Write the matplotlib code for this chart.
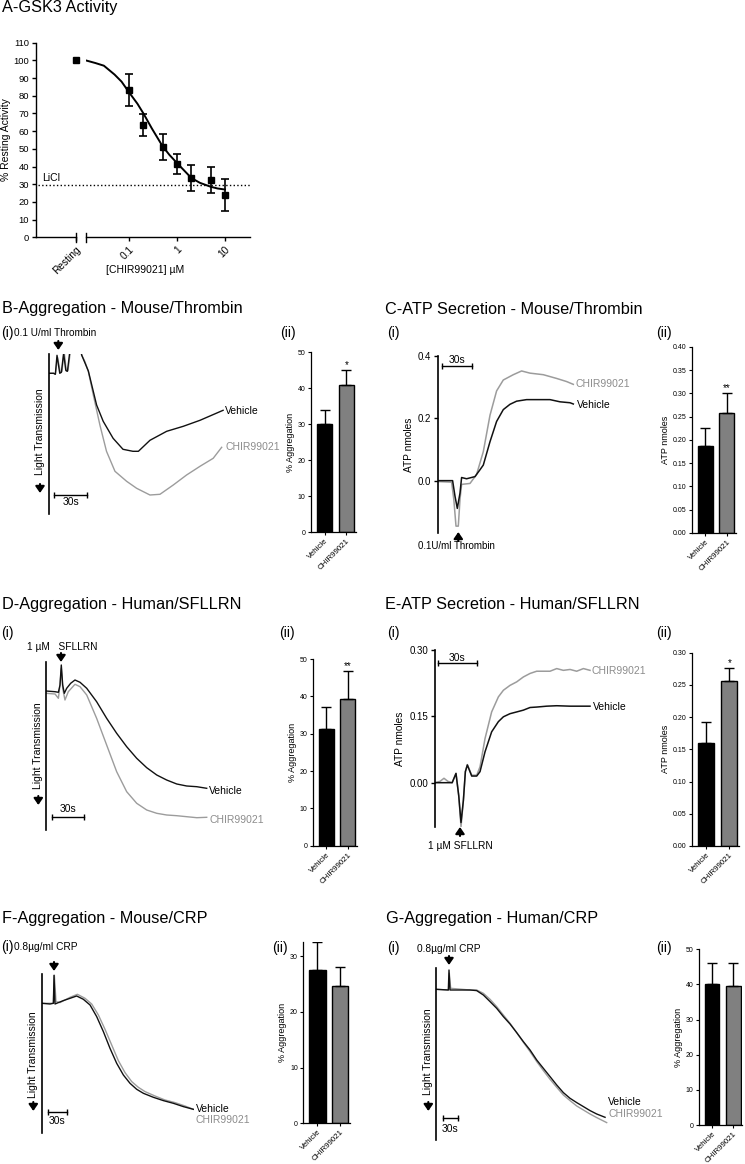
import matplotlib
matplotlib.use("Agg")
import matplotlib.pyplot as plt
from matplotlib.ticker import NullLocator
from matplotlib.patches import FancyArrowPatch
import matplotlib.transforms as mtrans

plt.rcParams['font.family'] = ['Liberation Sans', 'DejaVu Sans']
plt.rcParams['axes.linewidth'] = 1.0

# ------------------------------------------------------------------ data
# Panel A - GSK3 activity
a_conc = [0.1, 0.2, 0.5, 1, 2, 5, 10]
a_mean = [83.3, 63.5, 51, 41.5, 33.5, 32.5, 24]
a_err = [9.2, 6.2, 7.5, 5.5, 7.5, 7.5, 9]
a_resting = 100
a_fit_x = [0.0126, 0.02, 0.03, 0.05, 0.07, 0.1, 0.15, 0.2, 0.3, 0.5, 0.7, 1, 1.5, 2, 3, 5, 7, 10]
a_fit_y = [100, 98.5, 97, 92, 88, 82, 75.5, 70, 61.5, 51.5, 46.5, 42, 37, 33.5, 30.8, 28.6, 27.6, 27]
a_licl = 29.4
a_yticks = list(range(0, 111, 10))
a_xticks = [0.1, 1, 10]
a_xticklabels = ['0.1', '1', '10']

groups = ['Vehicle', 'CHIR99021']

# Panel B - aggregation mouse / thrombin
b_t_veh = [0, 4, 5.5, 7, 9.5, 11, 13, 15, 16.5, 19, 22, 27, 29.4, 35.5, 43, 49, 58, 67, 76, 81, 91.5, 106.7, 121.8, 137, 158]
b_y_veh = [0, 0, -1, 18, 0, 1, 20, 3, 2, 25, 40, 40, 18.3, 2.3, -31.7, -48, -65, -76, -78, -78, -67, -58, -53, -47, -37]
b_t_chir = [0, 4, 5.5, 7.5, 10, 11.5, 13.5, 15.5, 17, 19.5, 22, 27, 29.4, 32.4, 35.5, 40, 46, 52, 59.7, 70.3, 79.4, 91.5, 100.6, 112.7, 124.8, 137, 149, 156.7]
b_y_chir = [0, 0, -1, 16, 1, 2, 22, 2, 3, 25, 40, 40, 18.3, 11.7, 1.7, -21.7, -51.7, -78, -98, -108, -115, -121.7, -121, -111.7, -101.7, -93, -85, -74]
b_mean = [30, 41]
b_sem = [4, 4.2]
b_sig = ['', '*']

# Panel C - ATP secretion mouse / thrombin
c_t_veh = [0, 14.3, 16.7, 19, 21.7, 23.3, 28.3, 36.7, 41.7, 45, 51.7, 58.3, 65, 71.7, 78.3, 88.3, 98.3, 111.7, 121.7, 131.7, 135]
c_y_veh = [0, 0, -0.05, -0.089, -0.04, 0.01, 0.006, 0.013, 0.035, 0.05, 0.125, 0.19, 0.228, 0.245, 0.255, 0.26, 0.26, 0.26, 0.253, 0.25, 0.246]
c_t_chir = [0, 13.3, 15.5, 17.7, 20, 21.7, 23.3, 31.7, 38.3, 45, 51.7, 58.3, 65, 75, 83.3, 91.7, 105, 118.3, 128.3, 135]
c_y_chir = [-0.003, -0.005, -0.06, -0.146, -0.146, -0.06, -0.012, -0.009, 0.02, 0.093, 0.21, 0.288, 0.323, 0.34, 0.352, 0.345, 0.34, 0.328, 0.318, 0.309]
c_mean = [0.188, 0.259]
c_sem = [0.037, 0.042]
c_sig = ['', '**']

# Panel D - aggregation human / SFLLRN
d_t_veh = [0, 8.4, 11.5, 13, 14.2, 15.5, 17, 19.2, 22.9, 26.9, 31.6, 37.8, 47, 56.3, 65.6, 74.9, 84.2, 93.5, 102.8, 112, 121.4, 130.6, 140, 149.2]
d_y_veh = [0, -0.7, -1.3, 6, 26, 6, -2.3, 2.7, 7.7, 11, 8.7, 2.7, -10.7, -27.3, -42.3, -55.7, -67.3, -76.7, -84, -89, -93, -95, -95.7, -97.3]
d_t_chir = [0, 8.4, 11.5, 13, 14.2, 15.5, 17.6, 20.7, 26.9, 31.6, 37.8, 47, 56.3, 65.6, 74.9, 84.2, 93.5, 102.8, 112, 121.4, 130.6, 140, 149.2]
d_y_chir = [-2.3, -3, -7.3, 6, 22.7, 2.7, -9, -0.7, 6.7, 4.3, -4, -27.3, -54, -80.7, -100.7, -112.3, -119, -122.3, -124, -124.7, -125.7, -126.7, -126.3]
d_mean = [31.2, 39.4]
d_sem = [6, 7.4]
d_sig = ['', '**']

# Panel E - ATP secretion human / SFLLRN
e_t_veh = [0, 13, 15.9, 18, 19.7, 21.5, 23, 24.5, 27.8, 31.6, 34.1, 37.9, 42.9, 48, 51.8, 56.8, 61.9, 66.9, 72, 77, 84.6, 92.2, 102.3, 112.4, 117.4]
e_y_veh = [0, 0, 0.021, -0.03, -0.09, -0.04, 0.025, 0.040, 0.015, 0.015, 0.025, 0.070, 0.115, 0.138, 0.149, 0.156, 0.160, 0.164, 0.170, 0.171, 0.173, 0.174, 0.173, 0.173, 0.173]
e_t_chir = [0, 3.8, 6.8, 9.8, 13, 15.9, 18, 19.7, 21.5, 23, 24.5, 27.8, 31.6, 34.1, 37.9, 42.9, 48, 51.8, 56.8, 61.9, 66.9, 72, 77, 82, 87.1, 92.2, 97.2, 102.3, 107.3, 112.4, 117.4]
e_y_chir = [0, 0.003, 0.010, 0.003, 0, 0.021, -0.03, -0.0995, -0.04, 0.025, 0.041, 0.017, 0.017, 0.036, 0.100, 0.160, 0.194, 0.209, 0.220, 0.228, 0.239, 0.247, 0.252, 0.252, 0.252, 0.258, 0.254, 0.256, 0.252, 0.258, 0.254]
e_mean = [0.160, 0.256]
e_sem = [0.032, 0.020]
e_sig = ['', '*']

# Panel F - aggregation mouse / CRP
f_t_veh = [0, 12.7, 17.8, 18.8, 20.3, 25.4, 33, 43.2, 53.3, 63.5, 73.7, 83.8, 94, 104.1, 114.3, 124.5, 134.6, 144.8, 155, 170.2, 185.4, 200.7, 215.9, 231.1]
f_y_veh = [0, -0.7, 0, 28, -0.7, 0.7, 2.7, 5, 7.3, 4, -1.7, -13.3, -28.3, -45, -60, -71.7, -80, -86, -90, -94, -97.3, -100, -103.3, -106]
f_t_chir = [0, 17.8, 19.3, 21.8, 27.9, 43.2, 54.4, 66, 76.2, 86.4, 96.5, 106.7, 116.8, 127, 137.2, 147.3, 157.5, 172.7, 188, 203.2, 218.4, 231.1]
f_y_chir = [0, 0, 28, 1.7, 0.7, 6, 9, 5, -0.7, -11.7, -26, -41.7, -57.3, -69.3, -78.3, -84, -88.3, -92.7, -96.7, -99.3, -102.7, -106]
f_mean = [27.5, 24.6]
f_sem = [5.0, 3.5]
f_sig = ['', '']

# Panel G - aggregation human / CRP
g_t_veh = [0, 23.6, 24.9, 26.8, 33.2, 65.1, 77.9, 90.7, 103.5, 116.2, 129, 141.8, 154.5, 167.3, 180.1, 192.9, 205.6, 218.4, 231.2, 243.9, 256.7, 269.5, 282.3, 295, 307.8, 323.8]
g_y_veh = [0, -0.7, 19.3, -0.7, -0.7, -0.7, -1.3, -5.7, -12.3, -19, -27.3, -34.7, -43.3, -52.3, -60.7, -70.7, -79, -87.3, -95.7, -103.3, -109, -113.3, -117.3, -121.3, -124.7, -128]
g_t_chir = [0, 24, 25.5, 28.1, 65.1, 77.9, 90.7, 103.5, 116.2, 129, 141.8, 154.5, 167.3, 180.1, 192.9, 205.6, 218.4, 231.2, 243.9, 256.7, 269.5, 282.3, 295, 307.8, 326.9]
g_y_chir = [0, -0.7, 16, 1, -0.7, -0.7, -4, -10, -17.3, -25.7, -34, -43.3, -53, -62.3, -72.3, -81.3, -90, -98, -105.7, -111.3, -116.7, -120.7, -124.7, -128.3, -133.3]
g_mean = [40, 39.6]
g_sem = [6, 6.6]
g_sig = ['', '']

# ------------------------------------------------------------------ layout helpers
W, H = 745, 1164
fig = plt.figure(figsize=(W / 100, H / 100), dpi=100)

DARK = '#111111'
GRAY = '#9c9c9c'
LABGRAY = '#8c8c8c'
BARGRAY = '#808080'
TITLE_FS = 11.7
SUB_FS = 10


def add_ax(l, t, r, b):
    return fig.add_axes([l / W, 1 - b / H, (r - l) / W, (b - t) / H])


def ftext(x, y, s, **kw):
    return fig.text(x / W, 1 - y / H, s, **kw)


def farrow(x, y_tail, y_head):
    p = FancyArrowPatch((x / W, 1 - y_tail / H), (x / W, 1 - y_head / H),
                        transform=fig.transFigure,
                        arrowstyle='-|>,head_length=0.55,head_width=0.38',
                        mutation_scale=7, lw=1.5, color='k',
                        shrinkA=0, shrinkB=0)
    fig.add_artist(p)


def lt_label(x, y_center, y_arrow_tail, y_arrow_head):
    ftext(x, y_center, 'Light Transmission', fontsize=7.5, rotation=90, ha='center', va='center')
    farrow(x, y_arrow_tail, y_arrow_head)


def trace_axes(l, t, r, b, xlim, ylim, ticks=None, ticklabels=None, ylabel=None):
    ax = add_ax(l, t, r, b)
    ax.set_xlim(xlim)
    ax.set_ylim(ylim)
    for s in ['top', 'right', 'bottom']:
        ax.spines[s].set_visible(False)
    ax.spines['left'].set_linewidth(1.2)
    ax.set_xticks([])
    if ticks is None:
        ax.set_yticks([])
    else:
        ax.set_yticks(ticks)
        ax.set_yticklabels(ticklabels, fontsize=7)
        ax.tick_params(axis='y', length=3, width=1, pad=2)
    if ylabel:
        ax.set_ylabel(ylabel, fontsize=7.3, labelpad=3)
    ax.patch.set_alpha(0)
    return ax


def scalebar(ax, t0, t1, y, ty):
    ax.plot([t0, t1], [y, y], color='k', lw=1, marker='|', ms=5, mew=1, clip_on=False)
    ax.text((t0 + t1) / 2, ty, '30s', ha='center', va='center', fontsize=7.5)


def traces(ax, tv, yv, tc, yc, lw=1.0):
    ax.plot(tc, yc, color=GRAY, lw=lw)
    ax.plot(tv, yv, color=DARK, lw=lw)


def trace_labels(ax, xv, yv, xc, yc):
    ax.text(xv, yv, 'Vehicle', fontsize=7.5, color='k', va='center', ha='left')
    ax.text(xc, yc, 'CHIR99021', fontsize=7.5, color=LABGRAY, va='center', ha='left')


def bar_panel(l, r, t, b, means, sems, sig, ylim, yticks, fmt, ylabel):
    ax = add_ax(l, t, r, b)
    x = [0, 1]
    ax.bar(x, means, width=0.70, color=['k', BARGRAY], edgecolor='k', linewidth=1, zorder=2)
    ax.errorbar(x, means, yerr=[[0, 0], sems], fmt='none', ecolor='k', elinewidth=1,
                capsize=3.3, capthick=1, zorder=3)
    for xi, m, s, st in zip(x, means, sems, sig):
        if st:
            ax.text(xi, m + s, st, ha='center', va='bottom', fontsize=7)
    ax.set_xlim(-0.62, 1.42)
    ax.set_ylim(*ylim)
    ax.set_yticks(yticks)
    ax.set_yticklabels([fmt.format(v) for v in yticks], fontsize=5)
    ax.set_xticks(x)
    ax.set_xticklabels(groups, rotation=45, ha='right', rotation_mode='anchor', fontsize=5.7)
    for s in ['top', 'right']:
        ax.spines[s].set_visible(False)
    ax.spines['left'].set_linewidth(0.9)
    ax.spines['bottom'].set_linewidth(0.9)
    ax.tick_params(length=2.5, width=0.8, pad=1.5)
    ax.set_ylabel(ylabel, fontsize=6.5, labelpad=2)
    ax.patch.set_alpha(0)
    return ax


# ------------------------------------------------------------------ Panel A
ftext(2, 12, 'A-GSK3 Activity', fontsize=TITLE_FS, va='baseline')
axA1 = add_ax(36, 42.7, 75.5, 237.3)
axA2 = add_ax(85.5, 42.7, 250, 237.3)
for ax in (axA1, axA2):
    ax.set_ylim(0, 110)
    ax.spines['top'].set_visible(False)
    ax.spines['right'].set_visible(False)
    ax.patch.set_alpha(0)
    ax.tick_params(length=3, width=1, pad=2)
axA1.set_xlim(-1, 0)
axA1.set_yticks(a_yticks)
axA1.set_yticklabels([str(v) for v in a_yticks], fontsize=6.8)
axA1.set_xticks([0])
axA1.set_xticklabels(['Resting'], rotation=45, ha='right', rotation_mode='anchor', fontsize=7.3)
axA1.plot([0], [a_resting], 's', color='k', ms=4, clip_on=False, zorder=5)
axA1.set_ylabel('% Resting Activity', fontsize=7.5, labelpad=2)

axA2.set_xscale('log')
axA2.set_xlim(0.01242, 33.2)
axA2.spines['left'].set_visible(False)
axA2.set_yticks([])
axA2.set_xticks(a_xticks)
axA2.set_xticklabels(a_xticklabels, rotation=45, ha='right', rotation_mode='anchor', fontsize=7.3)
axA2.xaxis.set_minor_locator(NullLocator())
axA2.plot(a_fit_x, a_fit_y, color='k', lw=1.4, zorder=3)
axA2.errorbar(a_conc, a_mean, yerr=a_err, fmt='s', color='k', ms=4, elinewidth=1.2,
              capsize=3, capthick=1.2, zorder=4, clip_on=False)
for ax, xf in ((axA1, 1.0), (axA2, 0.0)):
    ax.plot([xf, xf], [-0.022, 0.022], transform=ax.transAxes, color='k', lw=1, clip_on=False)
blend = mtrans.blended_transform_factory(axA1.transAxes, axA1.transData)
axA1.plot([0.06, (250 - 36) / (75.5 - 36)], [a_licl, a_licl], transform=blend, color='k',
          lw=1, ls=':', clip_on=False)
axA1.text(0.15, a_licl + 1.2, 'LiCl', transform=blend, fontsize=7.5, va='bottom')
ftext(145, 270, '[CHIR99021] µM', fontsize=7.5, ha='center', va='center')

# ------------------------------------------------------------------ Panel B
ftext(2, 313, 'B-Aggregation - Mouse/Thrombin', fontsize=TITLE_FS, va='baseline')
ftext(1, 336.7, '(i)', fontsize=SUB_FS, va='baseline')
ftext(280, 336.7, '(ii)', fontsize=SUB_FS, va='baseline')
ftext(14.5, 335.7, '0.1 U/ml Thrombin', fontsize=7.2, va='baseline')
farrow(58.3, 341, 350)
axB = trace_axes(49.3, 354.3, 229.7, 514.3, (0, 164), (-141, 19))
traces(axB, b_t_veh, b_y_veh, b_t_chir, b_y_chir)
trace_labels(axB, 159.5, -38, 160.5, -74)
scalebar(axB, 4.5, 34.5, -121.7, -128.5)
lt_label(40, 431.5, 484, 493)
bar_panel(311, 355.5, 352.3, 532.3, b_mean, b_sem, b_sig, (0, 50), [0, 10, 20, 30, 40, 50],
          '{:d}', '% Aggregation')

# ------------------------------------------------------------------ Panel C
ftext(385, 314, 'C-ATP Secretion - Mouse/Thrombin', fontsize=TITLE_FS, va='baseline')
ftext(386.7, 337, '(i)', fontsize=SUB_FS, va='baseline')
ftext(656, 337, '(ii)', fontsize=SUB_FS, va='baseline')
axC = trace_axes(438.3, 356, 598.3, 533.3, (0, 160), (-0.169, 0.40),
                 ticks=[0, 0.2, 0.4], ticklabels=['0.0', '0.2', '0.4'], ylabel='ATP nmoles')
traces(axC, c_t_veh, c_y_veh, c_t_chir, c_y_chir, lw=1.1)
axC.text(137.7, 0.309, 'CHIR99021', fontsize=7.5, color=LABGRAY, va='center')
axC.text(138.3, 0.243, 'Vehicle', fontsize=7.5, color='k', va='center')
scalebar(axC, 3.3, 33.3, 0.369, 0.3875)
farrow(458.3, 541, 532)
ftext(456.7, 549, '0.1U/ml Thrombin', fontsize=7, ha='center', va='baseline')
bar_panel(692, 736, 347, 533, c_mean, c_sem, c_sig, (0, 0.40),
          [0, 0.05, 0.10, 0.15, 0.20, 0.25, 0.30, 0.35, 0.40], '{:.2f}', 'ATP nmoles')

# ------------------------------------------------------------------ Panel D
ftext(2, 609, 'D-Aggregation - Human/SFLLRN', fontsize=TITLE_FS, va='baseline')
ftext(1, 636.7, '(i)', fontsize=SUB_FS, va='baseline')
ftext(279, 636.7, '(ii)', fontsize=SUB_FS, va='baseline')
ftext(26.7, 650, '1 µM   SFLLRN', fontsize=7.3, va='baseline')
farrow(61, 653, 662)
axD = trace_axes(46, 662.3, 230.2, 830, (0, 171), (-139, 28.7))
traces(axD, d_t_veh, d_y_veh, d_t_chir, d_y_chir)
trace_labels(axD, 151.7, -99.7, 151.7, -129)
scalebar(axD, 5.3, 35.3, -126.3, -118)
lt_label(38.3, 746, 796, 805)
bar_panel(313, 356.5, 659, 845.7, d_mean, d_sem, d_sig, (0, 50), [0, 10, 20, 30, 40, 50],
          '{:d}', '% Aggregation')

# ------------------------------------------------------------------ Panel E
ftext(385, 609, 'E-ATP Secretion - Human/SFLLRN', fontsize=TITLE_FS, va='baseline')
ftext(386.7, 637.3, '(i)', fontsize=SUB_FS, va='baseline')
ftext(656, 637.3, '(ii)', fontsize=SUB_FS, va='baseline')
axE = trace_axes(435, 650, 590.8, 826.7, (0, 118), (-0.0995, 0.30),
                 ticks=[0, 0.15, 0.30], ticklabels=['0.00', '0.15', '0.30'], ylabel='ATP nmoles')
traces(axE, e_t_veh, e_y_veh, e_t_chir, e_y_chir, lw=1.1)
axE.text(118.7, 0.252, 'CHIR99021', fontsize=7.5, color=LABGRAY, va='center')
axE.text(119.4, 0.172, 'Vehicle', fontsize=7.5, color='k', va='center')
scalebar(axE, 2.0, 32.1, 0.270, 0.2825)
farrow(460, 836, 827)
ftext(460.3, 849, '1 µM SFLLRN', fontsize=7.3, ha='center', va='baseline')
bar_panel(692, 739, 652.7, 846, e_mean, e_sem, e_sig, (0, 0.30),
          [0, 0.05, 0.10, 0.15, 0.20, 0.25, 0.30], '{:.2f}', 'ATP nmoles')

# ------------------------------------------------------------------ Panel F
ftext(2, 923.3, 'F-Aggregation - Mouse/CRP', fontsize=TITLE_FS, va='baseline')
ftext(1, 951, '(i)', fontsize=SUB_FS, va='baseline')
ftext(271.7, 951.7, '(ii)', fontsize=SUB_FS, va='baseline')
ftext(14.5, 950, '0.8µg/ml CRP', fontsize=7.3, va='baseline')
farrow(54, 962, 971)
axF = trace_axes(41.7, 974, 193.9, 1133.3, (0, 232), (-130, 29.3))
traces(axF, f_t_veh, f_y_veh, f_t_chir, f_y_chir)
trace_labels(axF, 235.2, -106, 235.2, -116.5)
scalebar(axF, 9.1, 39.1, -108.3, -117.5)
lt_label(33.3, 1055, 1102, 1111)
bar_panel(303.3, 350, 942.3, 1123.3, f_mean, f_sem, f_sig, (0, 32.5), [0, 10, 20, 30],
          '{:d}', '% Aggregation')

# ------------------------------------------------------------------ Panel G
ftext(386, 923.3, 'G-Aggregation - Human/CRP', fontsize=TITLE_FS, va='baseline')
ftext(386.7, 951.7, '(i)', fontsize=SUB_FS, va='baseline')
ftext(656, 951.7, '(ii)', fontsize=SUB_FS, va='baseline')
ftext(416.7, 951.7, '0.8µg/ml CRP', fontsize=7.3, va='baseline')
farrow(449, 956, 965)
axG = trace_axes(436, 968.3, 608.3, 1140, (0, 330), (-150.7, 21))
traces(axG, g_t_veh, g_y_veh, g_t_chir, g_y_chir)
axG.text(330, -112.3, 'Vehicle', fontsize=7.5, color='k', va='center')
axG.text(330, -125, 'CHIR99021', fontsize=7.5, color=LABGRAY, va='center')
scalebar(axG, 12.8, 42.8, -129, -140)
lt_label(428.3, 1052, 1102, 1111)
bar_panel(699, 742, 949.3, 1125, g_mean, g_sem, g_sig, (0, 50), [0, 10, 20, 30, 40, 50],
          '{:d}', '% Aggregation')

fig.savefig('out.png', dpi=100)
